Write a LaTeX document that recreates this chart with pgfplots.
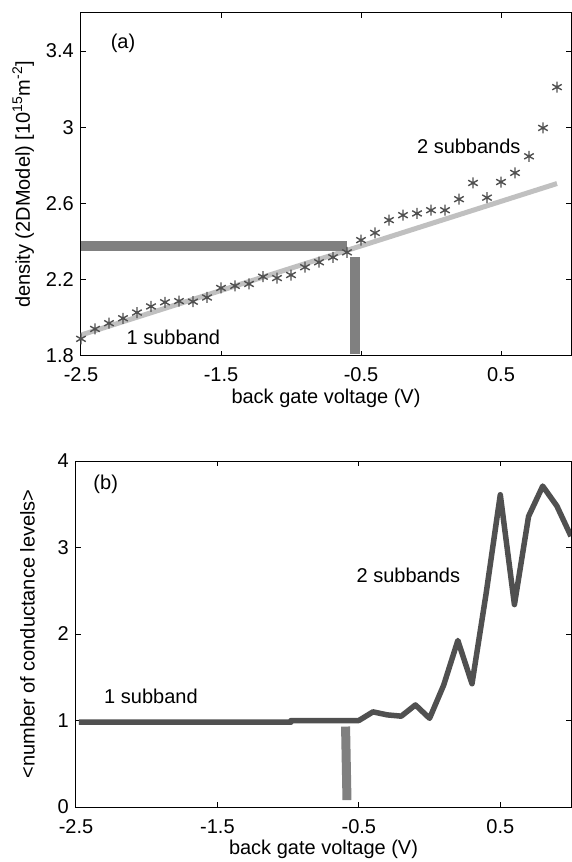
\documentclass[border=0pt]{standalone}
\usepackage{fontspec}
\setmainfont{Liberation Sans}
\usepackage{pgfplots}
\pgfplotsset{compat=1.18}

\definecolor{curve}{RGB}{80,80,80}
\definecolor{bar}{RGB}{128,128,128}
\definecolor{fit}{RGB}{192,192,192}

\pgfplotsset{
  panel/.style={
    scale only axis,
    anchor=south west,
    xmin=-2.5, xmax=1,
    xtick={-2.5,-1.5,-0.5,0.5},
    xticklabels={-2.5,-1.5,-0.5,0.5},
    tick align=inside,
    major tick length=5pt,
    axis line style={line width=1pt},
    every tick/.style={black,line width=1pt},
    xticklabel style={anchor=base,inner sep=0pt,yshift=-26pt},
    yticklabel style={anchor=east,inner sep=0pt,xshift=-7pt},
    xlabel style={at={(axis description cs:0.5,0)},anchor=center,yshift=-42pt},
    clip=true,
  },
}

\begin{document}
\begin{tikzpicture}[font=\fontsize{20}{24}\selectfont]
\useasboundingbox (0,0) rectangle (572pt,862pt);

% (a) density
\begin{axis}[panel,
  at={(81pt,506pt)}, width=490pt, height=343pt,
  ymin=1.8, ymax=3.6,
  ytick={1.8,2.2,2.6,3,3.4},
  yticklabels={1.8,2.2,2.6,3,3.4},
  xlabel={back gate voltage (V)},
  ylabel={density (2DModel) [10\textsuperscript{15}m\textsuperscript{-2}]},
  ylabel style={at={(axis description cs:-0.118,0.5)},anchor=center,rotate=0},
]
\addplot[fit, line width=5pt] coordinates {(-2.5,1.91) (0.9,2.705)};
\addplot[bar, line width=10pt] coordinates {(-2.5,2.378) (-0.6,2.378)};
\addplot[bar, line width=10pt] coordinates {(-0.542,1.81) (-0.542,2.32)};
\addplot[only marks, mark=asterisk, mark size=5.5pt, curve,
  mark options={line width=1.4pt}] coordinates {
  (-2.5,1.890) (-2.4,1.942) (-2.3,1.972) (-2.2,1.998) (-2.1,2.028)
  (-2.0,2.060) (-1.9,2.082) (-1.8,2.088) (-1.7,2.085) (-1.6,2.107)
  (-1.5,2.157) (-1.4,2.168) (-1.3,2.178) (-1.2,2.216) (-1.1,2.209)
  (-1.0,2.225) (-0.9,2.266) (-0.8,2.292) (-0.7,2.318) (-0.6,2.344)
  (-0.5,2.408) (-0.4,2.446) (-0.3,2.513) (-0.2,2.539) (-0.1,2.548)
  (0.0,2.565) (0.1,2.565) (0.2,2.623) (0.3,2.708) (0.4,2.631)
  (0.5,2.713) (0.6,2.761) (0.7,2.848) (0.8,2.997) (0.9,3.211)
};
\node at (axis cs:-2.2,3.44) {(a)};
\node at (axis cs:0.27,2.90) {2 subbands};
\node at (axis cs:-1.84,1.90) {1 subband};
\end{axis}

% (b) conductance levels
\begin{axis}[panel,
  at={(76pt,55pt)}, width=495pt, height=346pt,
  ymin=0, ymax=4,
  ytick={0,1,2,3,4},
  yticklabels={0,1,2,3,4},
  xlabel={back gate voltage (V)},
  ylabel={<number of conductance levels>},
  ylabel style={at={(axis description cs:-0.098,0.5)},anchor=center,rotate=0},
]
\addplot[bar, line width=9pt] coordinates {(-0.594,0.93) (-0.584,0.08)};
\addplot[curve, line width=5.5pt, line join=round] coordinates {
  (-2.48,0.98) (-2.0,0.98) (-1.5,0.98) (-0.98,0.98) (-0.98,1.0)
  (-0.9,1.0) (-0.8,1.0) (-0.7,1.0) (-0.6,1.0) (-0.5,1.0)
  (-0.4,1.10) (-0.3,1.065) (-0.2,1.05) (-0.1,1.18) (0.0,1.025)
  (0.1,1.41) (0.2,1.925) (0.3,1.425) (0.4,2.47) (0.5,3.61)
  (0.6,2.34) (0.7,3.36) (0.8,3.71) (0.9,3.48) (1.0,3.13)
};
\node at (axis cs:-2.29,3.73) {(b)};
\node at (axis cs:-0.15,2.68) {2 subbands};
\node at (axis cs:-1.97,1.28) {1 subband};
\end{axis}
\end{tikzpicture}
\end{document}
